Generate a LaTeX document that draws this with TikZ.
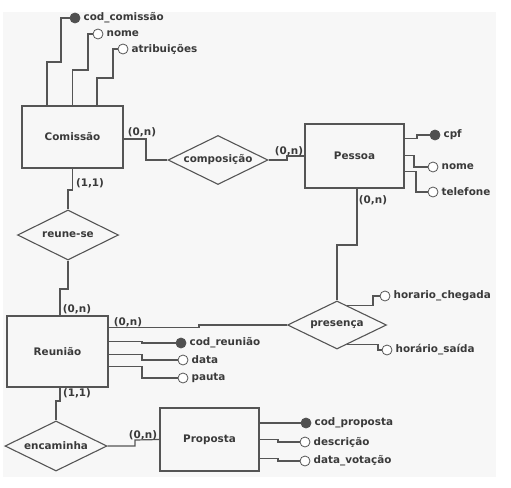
\documentclass[tikz,border=0pt]{standalone}
\usepackage{fontspec}
\newfontfamily\erfont{DejaVu Sans}
\usetikzlibrary{shapes.geometric,calc}
\definecolor{bgc}{HTML}{F7F7F7}
\definecolor{lc}{HTML}{555555}
\definecolor{kc}{HTML}{505050}
\definecolor{tc}{HTML}{3A3A3A}
\begin{document}
\begin{tikzpicture}[x=1pt,y=-1pt,
  every node/.style={font=\erfont\fontsize{10.4}{12}\selectfont\bfseries, text=tc},
  every label/.style={inner sep=0pt},
  ent/.style={rectangle, draw=lc, line width=1.4pt, inner sep=0pt},
  rel/.style={diamond, draw=lc, line width=1.1pt, inner sep=0pt},
  keyatt/.style={circle, fill=kc, draw=kc, line width=0.8pt, minimum size=10pt, inner sep=0pt, label={[label distance=3pt]right:#1}},
  att/.style={circle, fill=white, draw=lc, line width=0.8pt, minimum size=10pt, inner sep=0pt, label={[label distance=3pt]right:#1}},
  con/.style={draw=lc, line width=1.2pt},
  card/.style={inner sep=0pt}]
\useasboundingbox (0,0) rectangle (511,487);
\fill[bgc] (3,12) rectangle (496,477);

% entities
\node[ent, minimum width=101pt, minimum height=62pt] (com) at (72.5,137) {Comissão};
\node[ent, minimum width=99pt, minimum height=64pt] (pes) at (354.5,156) {Pessoa};
\node[ent, minimum width=101pt, minimum height=71pt] (reu) at (57.5,351.5) {Reunião};
\node[ent, minimum width=99pt, minimum height=63pt] (pro) at (209.5,439.5) {Proposta};

% relationships
\node[rel, minimum width=100pt, minimum height=49pt, label={center:composição}] (comp) at (218,160) {};
\node[rel, minimum width=101pt, minimum height=50pt, label={center:reune-se}] (rs) at (68,235) {};
\node[rel, minimum width=99pt, minimum height=48pt, label={center:presença}] (pr) at (337,325) {};
\node[rel, minimum width=102pt, minimum height=50pt, label={center:encaminha}] (enc) at (56,446) {};

% attributes
\node[keyatt={cod\_comissão}] (cc) at (75,18) {};
\node[att={nome}] (cn) at (98,34) {};
\node[att={atribuições}] (ca) at (123,49) {};
\node[keyatt={cpf}] (pcpf) at (435,135) {};
\node[att={nome}] (pnome) at (433,167) {};
\node[att={telefone}] (ptel) at (433,192) {};
\node[att={horario\_chegada}] (hc) at (385,296) {};
\node[att={horário\_saída}] (hs) at (387,350) {};
\node[keyatt={cod\_reunião}] (cr) at (181,343) {};
\node[att={data}] (rd) at (183,360) {};
\node[att={pauta}] (rp) at (183,378) {};
\node[keyatt={cod\_proposta}] (cp) at (306,423) {};
\node[att={descrição}] (pd) at (305,442) {};
\node[att={data\_votação}] (pv) at (305,461) {};

% attribute connectors
\draw[con] ([xshift=-25.5pt]com.north) |- (61,62) |- (cc.west);
\draw[con] (com.north) |- (88,70) |- (cn.west);
\draw[con] ([xshift=24.5pt]com.north) |- (113,78) |- (ca.west);
\draw[con] ($(pes.north east)+(0,15)$) -| (417,135) -- (pcpf.west);
\draw[con] ($(pes.north east)+(0,32)$) -| (414,167) -- (pnome.west);
\draw[con] ($(pes.north east)+(0,48)$) -| (416,192) -- (ptel.west);
\draw[con] ($(pr.north)!0.2!(pr.east)$) -| (373,296) -- (hc.west);
\draw[con] ($(pr.south)!0.2!(pr.east)$) -| (378,350) -- (hs.west);
\draw[con] ($(reu.north east)+(0,26)$) -| (142,343) -- (cr.west);
\draw[con] ($(reu.north east)+(0,39)$) -| (142,360) -- (rd.west);
\draw[con] ($(reu.north east)+(0,51)$) -| (142,378) -- (rp.west);
\draw[con] (pro.east |- cp.west) -- (cp.west);
\draw[con] ($(pro.north east)+(0,32)$) -| (278,442) -- (pd.west);
\draw[con] ($(pro.north east)+(0,51)$) -| (278,461) -- (pv.west);

% relationship connectors
\draw[con] ([yshift=-2pt]com.east) -| (146,160) -- (comp.west);
\draw[con] (comp.east) -| (287,156) -- (pes.west);
\draw[con] ([xshift=2.5pt]pes.south) |- (337,245) -- (pr.north);
\draw[con] ($(reu.north east)+(0,12)$) -| (199,325) -- (pr.west);
\draw[con] (com.south) |- (68,190) -- (rs.north);
\draw[con] (rs.south) |- (60,289) -- (60,289 |- reu.north);
\draw[con] ([xshift=2.5pt]reu.south) |- (56,401) -- (enc.north);
\draw[con] (enc.east) -| (135,440) -- (pro.west);

% cardinalities
\node[card] (k1) at (142,132) {(0,n)};
\node[card] (k2) at (289,151) {(0,n)};
\node[card] (k3) at (90,183) {(1,1)};
\node[card] (k4) at (373,200) {(0,n)};
\node[card] (k5) at (77,309) {(0,n)};
\node[card] (k6) at (128,322) {(0,n)};
\node[card] (k7) at (77,393) {(1,1)};
\node[card] (k8) at (143,435) {(0,n)};
\end{tikzpicture}
\end{document}
